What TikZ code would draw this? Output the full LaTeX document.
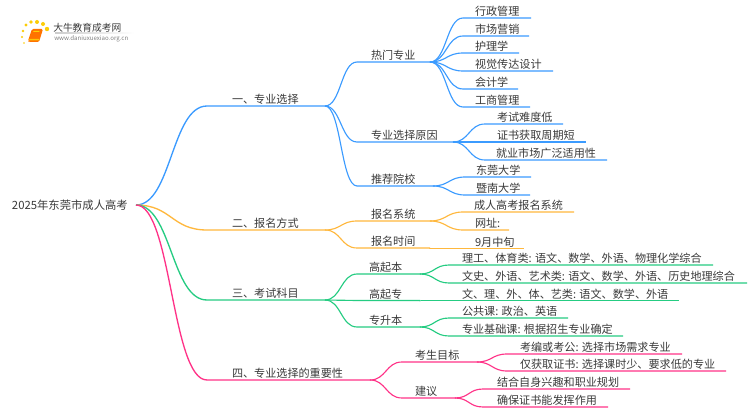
\documentclass[tikz,border=0pt]{standalone}
\usepackage{fontspec}
\setmainfont{Noto Sans CJK SC}
\usetikzlibrary{calc}
\definecolor{cblue}{HTML}{3B9BFF}
\definecolor{corange}{HTML}{FFB83D}
\definecolor{cgreen}{HTML}{25CC82}
\definecolor{cpink}{HTML}{FF3388}
\definecolor{ctext}{HTML}{3A3A3A}
\tikzset{
  x=0.75pt,y=-0.75pt,
  lbl/.style={inner sep=0pt,outer sep=0pt,anchor=south west,text height=8pt,text depth=1.6pt,text=ctext,font=\fontsize{8.33pt}{10pt}\selectfont},
  link/.style={line width=0.85pt,line join=round,#1},
  trunk/.style={line width=1pt,line join=round,#1},
}
% name, x start, x text, x end, y of underline, text
\newcommand\itm[6]{\node[lbl] (#1) at (#2,#5) {\makebox[\dimexpr 0.75pt*(#4-#2)\relax][l]{\hspace*{\dimexpr 0.75pt*(#3-#2)\relax}#6}};}
% style, from, to : S-curve then the underline of the target
\newcommand\conn[3]{\draw[#1] (#2.south east) .. controls ($(#2.south east)!.5!(#3.south west |- #2.south east)$) and ($(#3.south west)!.5!(#2.south east |- #3.south west)$) .. (#3.south west) -- (#3.south east);}
\begin{document}
\begin{tikzpicture}
\useasboundingbox (0,0) rectangle (750,410);
\fill[white] (0,0) rectangle (750,410);
% logo
\fill[orange!90!red,rounded corners=1pt] (28,41) -- (32,29) -- (43,29) -- (39,42) -- (29,42) -- cycle;
\fill[yellow!60!orange] (29.5,39) -- (39.5,39) -- (39,40.3) -- (29,40.3) -- cycle;
\fill[yellow!70!orange] (33.5,31) -- (39.5,31) -- (39.2,32) -- (33.2,32) -- cycle;
\foreach \p/\r in {{(24,43)}/0.9,{(22,37)}/1.1,{(23,31)}/1.3,{(26,25)}/1.6,{(31,22)}/1.9,{(37,22)}/2,{(43,24)}/2,{(47,29)}/2.2}
  \fill[yellow!65!orange] \p circle[radius=\r];
\node[inner sep=0pt,anchor=west,text=ctext,font=\fontsize{7.3pt}{9pt}\selectfont] (logotitle) at (53,27.5) {大牛教育成考网};
\shade[left color=gray!40,right color=white] (55,32.6) rectangle (134,33.4);
\node[inner sep=0pt,anchor=west,text=gray,font=\fontsize{4.6pt}{6pt}\selectfont] (logourl) at (54,39) {www.daniuxuexiao.org.cn};
% root
\node[lbl,anchor=east,font=\fontsize{8.5pt}{10pt}\selectfont] (root) at (136,205) {\makebox[\dimexpr 0.75pt*124\relax][l]{2025年东莞市成人高考}};
% level 1
\itm{a}{207}{232}{325}{106}{一、专业选择}
\itm{b}{207}{232}{325}{230}{二、报名方式}
\itm{c}{207}{232}{325}{300}{三、考试科目}
\itm{d}{207}{232}{370}{380}{四、专业选择的重要性}
% blue
\itm{a1}{357}{371}{430}{62}{热门专业}
\itm{a2}{357}{371}{453}{142}{专业选择原因}
\itm{a3}{357}{371}{433}{186}{推荐院校}
\itm{a11}{463}{475}{531}{18}{行政管理}
\itm{a12}{463}{475}{529}{36}{市场营销}
\itm{a13}{463}{475}{519}{53}{护理学}
\itm{a14}{463}{475}{553}{71}{视觉传达设计}
\itm{a15}{463}{475}{518}{89}{会计学}
\itm{a16}{463}{475}{530}{107}{工商管理}
\itm{a21}{485}{497}{563}{124}{考试难度低}
\itm{a22}{485}{497}{586}{142}{证书获取周期短}
\itm{a23}{485}{496}{607}{160}{就业市场广泛适用性}
\itm{a31}{465}{476}{531}{177}{东莞大学}
\itm{a32}{465}{476}{530}{195}{暨南大学}
% orange
\itm{b1}{357}{371}{430}{221}{报名系统}
\itm{b2}{357}{371}{430}{248}{报名时间}
\itm{b11}{463}{474}{574}{212}{成人高考报名系统}
\itm{b12}{463}{475}{509}{230}{网址:}
\itm{b21}{430}{475}{524}{248.2}{9月中旬}
% green
\itm{c1}{357}{369}{420}{274}{高起本}
\itm{c2}{357}{369}{420}{300.5}{高起专}
\itm{c3}{357}{369}{420}{327}{专升本}
\itm{c11}{449}{462}{713}{265}{理工、体育类: 语文、数学、外语、物理化学综合}
\itm{c12}{449}{462}{747}{283}{文史、外语、艺术类: 语文、数学、外语、历史地理综合}
\itm{c21}{420}{462}{679}{300.7}{文、理、外、体、艺类: 语文、数学、外语}
\itm{c31}{449}{462}{568}{318}{公共课: 政治、英语}
\itm{c32}{449}{462}{623}{336}{专业基础课: 根据招生专业确定}
% pink
\itm{d1}{402}{415}{477}{362}{考生目标}
\itm{d2}{402}{415}{455}{398}{建议}
\itm{d11}{507}{520}{682}{354}{考编或考公: 选择市场需求专业}
\itm{d12}{507}{520}{726}{371}{仅获取证书: 选择课时少、要求低的专业}
\itm{d21}{483}{497}{630}{389}{结合自身兴趣和职业规划}
\itm{d22}{483}{497}{608}{407}{确保证书能发挥作用}
% connectors
\newcommand\rootconn[2]{\draw[trunk=#1] (root.east) .. controls ($(root.east)!.5!(#2.south west |- root.east)$) and ($(#2.south west)!.5!(root.east |- #2.south west)$) .. (#2.south west) -- (#2.south east);}
\rootconn{cblue}{a}
\rootconn{corange}{b}
\rootconn{cgreen}{c}
\rootconn{cpink}{d}
\foreach \f/\t in {a/a1,a/a2,a/a3,a1/a11,a1/a12,a1/a13,a1/a14,a1/a15,a1/a16,a2/a21,a2/a22,a2/a23,a3/a31,a3/a32}{\conn{link=cblue}{\f}{\t}}
\foreach \f/\t in {b/b1,b/b2,b1/b11,b1/b12,b2/b21}{\conn{link=corange}{\f}{\t}}
\foreach \f/\t in {c/c1,c/c2,c/c3,c1/c11,c1/c12,c2/c21,c3/c31,c3/c32}{\conn{link=cgreen}{\f}{\t}}
\foreach \f/\t in {d/d1,d/d2,d1/d11,d1/d12,d2/d21,d2/d22}{\conn{link=cpink}{\f}{\t}}
\end{tikzpicture}
\end{document}
